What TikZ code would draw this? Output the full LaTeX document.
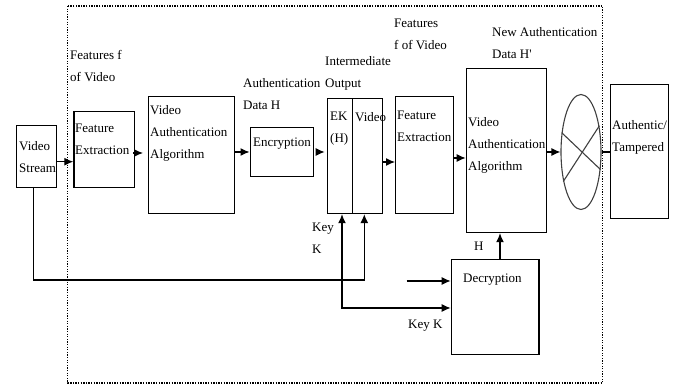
\documentclass[tikz,border=0pt]{standalone}
\usepackage{fontspec}
\setmainfont{Liberation Serif}
\usetikzlibrary{arrows.meta,shapes.geometric}
\tikzset{
  box/.style={draw, line width=1.2pt, inner sep=0pt, anchor=north west},
  lbl/.style={inner sep=0pt, anchor=north west, align=left, font=\fontsize{13}{22}\selectfont},
  conn/.style={line width=1.2pt},
  arr/.style={line width=1.2pt, -{Latex[length=9pt,width=8pt]}},
  frame/.style={line width=1.4pt, dash pattern=on 1.3pt off 1.3pt}
}
\begin{document}
\begin{tikzpicture}[x=1pt,y=-1pt]
\useasboundingbox (0,0) rectangle (673,387);
% frame
\draw[frame] (67.7,6) rectangle (602.7,383);
% boxes
\node[box, minimum width=40pt, minimum height=62pt] (vs) at (15.7,125) {};
\node[box, minimum width=60.7pt, minimum height=76pt] (fe1) at (73.3,111) {};
\node[box, minimum width=86pt, minimum height=117pt] (vaa1) at (148,96) {};
\node[box, minimum width=63pt, minimum height=49pt] (enc) at (249.5,127) {};
\node[box, minimum width=25.3pt, minimum height=115pt] (ekl) at (326.7,98) {};
\node[box, minimum width=30pt, minimum height=115pt] (ekv) at (352,98) {};
\node[box, minimum width=58pt, minimum height=117pt] (fe2) at (395,96) {};
\node[box, minimum width=80pt, minimum height=164pt] (vaa2) at (465.7,68) {};
\node[draw=black!75, line width=1.1pt, ellipse, inner sep=0pt, minimum width=40pt, minimum height=115pt] (cmp) at (581,152) {};
\node[box, minimum width=57.7pt, minimum height=134pt] (auth) at (610,84.3) {};
\node[box, minimum width=87.6pt, minimum height=95.3pt] (dec) at (450.7,259) {};
\draw[line width=1.1pt, black!75] (cmp.135) -- (cmp.-42);
\draw[line width=1.1pt, black!75] (cmp.55) -- (cmp.239);
% labels
\node[lbl] (t1) at (19,141) {Video\\Stream};
\node[lbl] (t2) at (70,50) {Features f\\of Video};
\node[lbl] (t3) at (75,124) {Feature\\Extraction};
\node[lbl] (t4) at (150,105) {Video\\Authentication\\Algorithm};
\node[lbl] (t5) at (243,78) {Authentication\\Data H};
\node[lbl] (t6) at (253,138) {Encryption};
\node[lbl] (t7) at (325,56) {Intermediate\\Output};
\node[lbl] (t8) at (330,112) {EK\\(H)};
\node[lbl] (t9) at (355,112) {Video};
\node[lbl] (t10) at (394,19) {Features\\f of Video};
\node[lbl] (t11) at (397,111) {Feature\\Extraction};
\node[lbl] (t12) at (492,27) {New Authentication\\Data H\textquotesingle};
\node[lbl] (t13) at (468,117) {Video\\Authentication\\Algorithm};
\node[lbl] (t14) at (612,120) {Authentic/\\Tampered};
\node[lbl] (t15) at (312,223) {Key\\K};
\node[lbl] (t16) at (474,242) {H};
\node[lbl] (t17) at (463,274) {Decryption};
\node[lbl] (t18) at (408,320) {Key K};
% helper coordinates
\coordinate (ya) at (0,161.7);
\coordinate (yb) at (0,153);
\coordinate (yc) at (0,152);
\coordinate (yd) at (0,162);
\coordinate (ye) at (0,158);
\coordinate (yf) at (0,280);
\coordinate (yg) at (0,308);
\coordinate (xk) at (342,0);
\coordinate (xv) at (364.3,0);
\coordinate (xh) at (500,0);
\coordinate (src) at (406.7,281);
% connectors
\draw[arr] (vs.east |- ya) -- (fe1.west |- ya);
\draw[arr, shorten <=2pt, shorten >=5pt] (fe1.east |- yb) -- (vaa1.west |- yb);
\draw[arr] (vaa1.east |- yc) -- (enc.west |- yc);
\draw[arr, shorten <=4pt, shorten >=2pt] (enc.east |- yc) -- (ekl.west |- yc);
\draw[arr] (ekv.east |- yd) -- (fe2.west |- yd);
\draw[arr] (fe2.east |- ye) -- (vaa2.west |- ye);
\draw[arr] (vaa2.east |- yc) -- (cmp.west |- yc);
\draw[conn] (cmp.east |- yc) -- (auth.west |- yc);
\draw[arr] (33.3,187) coordinate (vsb) -- (vsb |- yf) -- (xv |- yf) -- (xv |- ekv.south);
\draw[{Latex[length=9pt,width=8pt]}-{Latex[length=9pt,width=8pt]}, line width=1.2pt] (xk |- ekl.south) -- (xk |- yg) -- (dec.west |- yg);
\draw[arr] (src) -- (dec.west |- src);
\draw[arr] (xh |- dec.north) -- (xh |- vaa2.south);
\end{tikzpicture}
\end{document}
